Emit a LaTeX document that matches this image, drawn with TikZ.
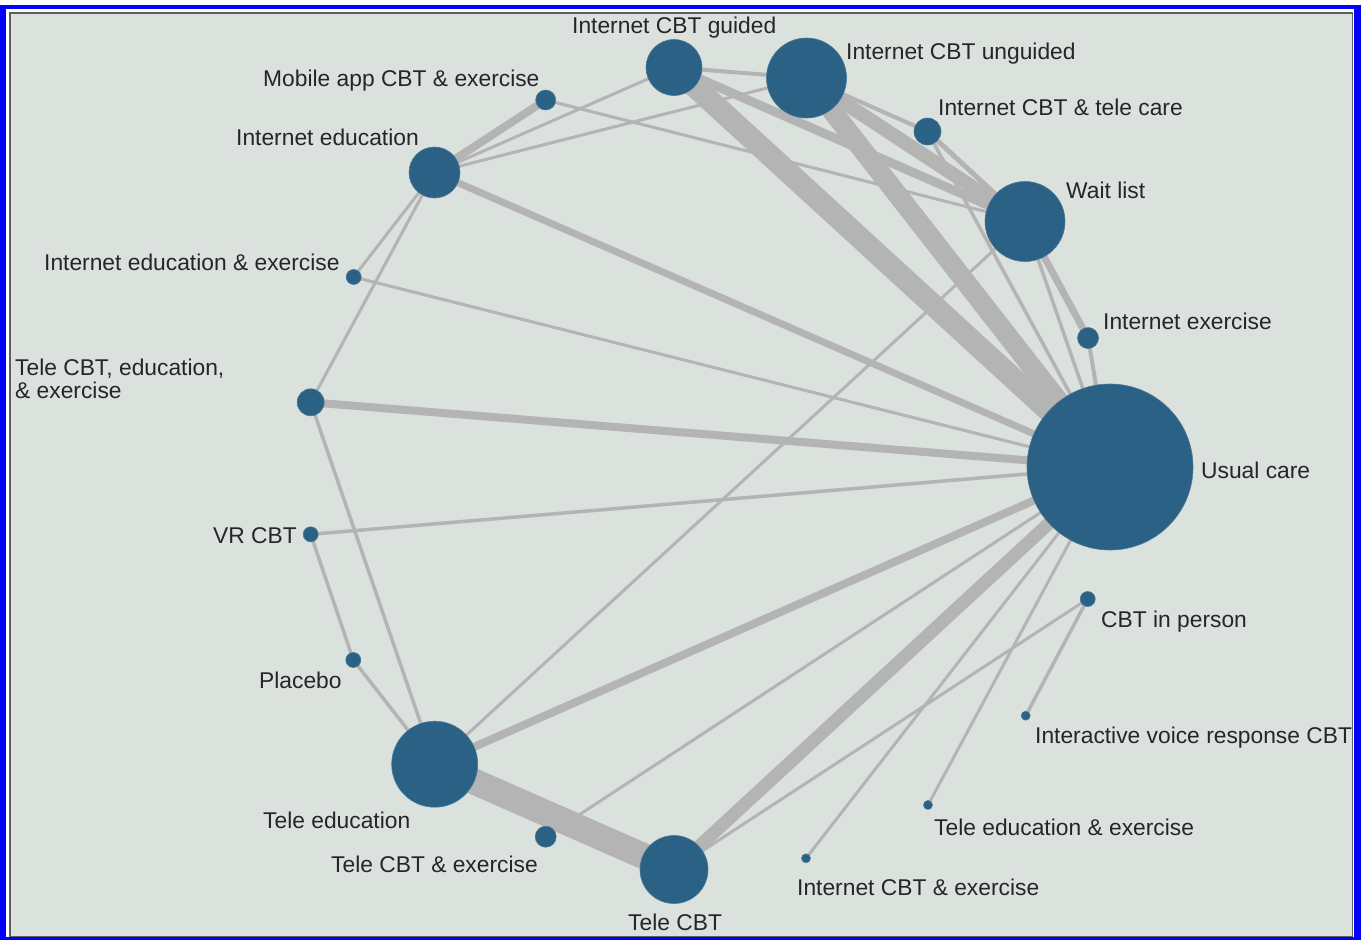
\documentclass[tikz,border=0pt]{standalone}
\usepackage{fontspec}
\setmainfont{Liberation Sans}

\pgfdeclarelayer{back}
\pgfsetlayers{back,main}

\definecolor{netblue}{RGB}{43,97,132}
\definecolor{linkgray}{RGB}{180,180,180}
\definecolor{panel}{RGB}{219,225,221}
\definecolor{framegray}{RGB}{95,95,95}

\tikzset{
  trt/.style={circle, fill=netblue, draw=netblue!85!white, line width=0.6pt, inner sep=0pt, minimum size=#1},
  lbl/.style={inner sep=0pt, anchor=base west, text=black!85, font=\fontsize{22.8}{23}\selectfont},
  link/.style={draw=linkgray, line width=#1},
}

\begin{document}
\begin{tikzpicture}[x=1pt,y=-1pt]
    \useasboundingbox (0,0) rectangle (1361,940);

    % treatments, size ~ number of patients
    \node[trt=166pt] (uc)   at (1110,467)     {};
    \node[trt=80pt]  (wl)   at (1025,221.5)   {};
    \node[trt=21pt]  (ie)   at (1088,338)     {};
    \node[trt=27pt]  (ict)  at (927.5,131.5)  {};
    \node[trt=80pt]  (icu)  at (806.5,78)     {};
    \node[trt=56pt]  (icg)  at (674,67.5)     {};
    \node[trt=20pt]  (mob)  at (545.7,100)    {};
    \node[trt=51pt]  (ied)  at (434.5,172.5)  {};
    \node[trt=15pt]  (iee)  at (353.7,277)    {};
    \node[trt=27pt]  (tcee) at (310.7,402.3)  {};
    \node[trt=15pt]  (vr)   at (310.7,534.3)  {};
    \node[trt=15pt]  (pla)  at (353.3,660)    {};
    \node[trt=86pt]  (te)   at (434.7,764.2)  {};
    \node[trt=21pt]  (tce)  at (545.7,836.7)  {};
    \node[trt=68pt]  (tc)   at (674,869.5)    {};
    \node[trt=9pt]   (ice)  at (806,858.3)    {};
    \node[trt=9pt]   (tee)  at (928,805)      {};
    \node[trt=9pt]   (ivr)  at (1025.7,715.7) {};
    \node[trt=15pt]  (cip)  at (1087.7,599)   {};

    % names
    \node[lbl] (icg-l)  at (572,33)   {Internet CBT guided};
    \node[lbl] (icu-l)  at (846,59)   {Internet CBT unguided};
    \node[lbl] (mob-l)  at (263,86)   {Mobile app CBT \& exercise};
    \node[lbl] (ict-l)  at (938,115)  {Internet CBT \& tele care};
    \node[lbl] (ied-l)  at (236,145)  {Internet education};
    \node[lbl] (wl-l)   at (1066,198) {Wait list};
    \node[lbl] (iee-l)  at (44,270)   {Internet education \& exercise};
    \node[lbl] (ie-l)   at (1103,329) {Internet exercise};
    \node[lbl, align=left, anchor=north west] (tcee-l) at (15,359) {Tele CBT, education,\\\& exercise};
    \node[lbl] (uc-l)   at (1201,478) {Usual care};
    \node[lbl] (vr-l)   at (213,543)  {VR CBT};
    \node[lbl] (cip-l)  at (1101,627) {CBT in person};
    \node[lbl] (pla-l)  at (259,688)  {Placebo};
    \node[lbl] (ivr-l)  at (1035,743) {Interactive voice response CBT};
    \node[lbl] (te-l)   at (263,828)  {Tele education};
    \node[lbl] (tee-l)  at (934,835)  {Tele education \& exercise};
    \node[lbl] (tce-l)  at (331,872)  {Tele CBT \& exercise};
    \node[lbl] (ice-l)  at (797,895)  {Internet CBT \& exercise};
    \node[lbl] (tc-l)   at (628,930)  {Tele CBT};

    \begin{pgfonlayer}{back}
    % frame
    \fill[white] (0,0) rectangle (1361,940);
    \fill[blue] (0,5) rectangle (1361,940);
    \fill[white] (6,9.3) rectangle (1354,937.3);
    \draw[framegray, line width=1.5pt, fill=panel] (10,13) rectangle (1352.5,936.3);

    % comparisons, width ~ number of trials
    \foreach \a/\b/\w in {icg/uc/22, icu/uc/20, icu/wl/14, icg/wl/9, icg/icu/4,
        icu/ict/4, ict/wl/5, ict/uc/3.5, wl/ie/7, ie/uc/4, wl/uc/3.5, wl/te/3,
        mob/ied/8, mob/wl/3, ied/icg/3, ied/icu/3, ied/uc/7, ied/iee/3,
        ied/tcee/3, iee/uc/3, tcee/uc/8, tcee/te/3.5, vr/uc/3.5, vr/pla/3.5,
        pla/te/3.5, te/uc/8, te/tc/26, tce/uc/3, tc/uc/13, tc/cip/3,
        ice/uc/3, tee/uc/3, ivr/cip/3.5} {
        \draw[link=\w pt] (\a.center) -- (\b.center);
    }
    \end{pgfonlayer}
\end{tikzpicture}
\end{document}
